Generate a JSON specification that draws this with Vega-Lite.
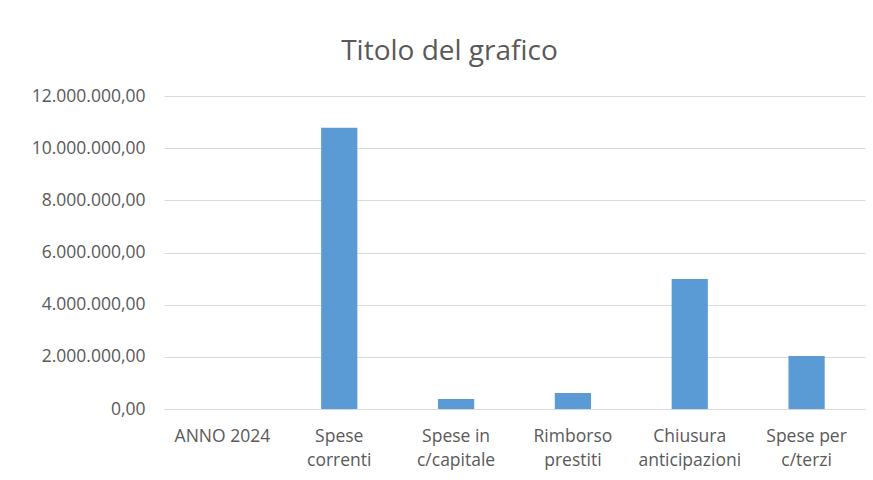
{
  "$schema": "https://vega.github.io/schema/vega-lite/v6.json",
  "width": 701,
  "height": 313,
  "autosize": {"type": "none"},
  "padding": {"left": 164, "top": 96, "right": 8, "bottom": 71},
  "background": "#ffffff",
  "title": {
    "text": "Titolo del grafico",
    "fontSize": 28,
    "font": "Open Sans",
    "fontWeight": "normal",
    "color": "#595959",
    "anchor": "middle",
    "dx": -65,
    "offset": 21
  },
  "config": {
    "locale": {
      "number": {"decimal": ",", "thousands": ".", "grouping": [3], "currency": ["€", ""]}
    },
    "view": {"stroke": null},
    "font": "Open Sans"
  },
  "data": {
    "values": [
      {"categoria": "ANNO 2024", "importo": 0},
      {"categoria": "Spese correnti", "importo": 10780000},
      {"categoria": "Spese in c/capitale", "importo": 380000},
      {"categoria": "Rimborso prestiti", "importo": 610000},
      {"categoria": "Chiusura anticipazioni", "importo": 4980000},
      {"categoria": "Spese per c/terzi", "importo": 2030000}
    ]
  },
  "mark": {"type": "bar", "color": "#5b9bd5"},
  "encoding": {
    "x": {
      "field": "categoria",
      "type": "nominal",
      "sort": null,
      "scale": {"paddingInner": 0.69, "paddingOuter": 0.345},
      "axis": {
        "title": null,
        "labelAngle": 0,
        "labelFontSize": 17.5,
        "labelColor": "#595959",
        "labelLineHeight": 24,
        "labelPadding": 18,
        "labelBaseline": "top",
        "ticks": false,
        "domainColor": "#d9d9d9",
        "domainWidth": 1,
        "labelExpr": "datum.value == 'ANNO 2024' ? datum.value : [substring(datum.value, 0, lastindexof(datum.value, ' ')), substring(datum.value, lastindexof(datum.value, ' ') + 1)]"
      }
    },
    "y": {
      "field": "importo",
      "type": "quantitative",
      "scale": {"domain": [0, 12000000], "nice": false},
      "axis": {
        "title": null,
        "values": [0, 2000000, 4000000, 6000000, 8000000, 10000000, 12000000],
        "format": ",.2f",
        "labelFontSize": 17.5,
        "labelColor": "#595959",
        "labelPadding": 19,
        "ticks": false,
        "domain": false,
        "gridColor": "#d9d9d9",
        "gridWidth": 1
      }
    }
  }
}
